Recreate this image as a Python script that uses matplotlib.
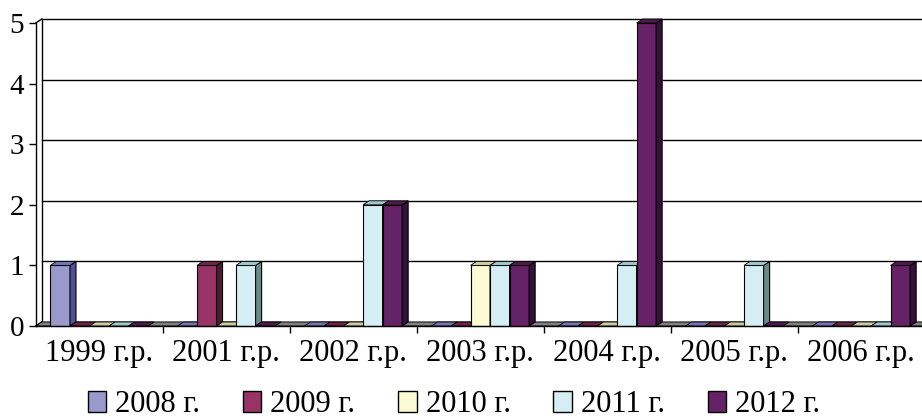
import matplotlib
matplotlib.use('Agg')
import matplotlib.pyplot as plt
from matplotlib.patches import Polygon, Patch

categories = ['1999 г.р.', '2001 г.р.', '2002 г.р.', '2003 г.р.',
              '2004 г.р.', '2005 г.р.', '2006 г.р.']
series = ['2008 г.', '2009 г.', '2010 г.', '2011 г.', '2012 г.']
v2008 = [1, 0, 0, 0, 0, 0, 0]
v2009 = [0, 1, 0, 0, 0, 0, 0]
v2010 = [0, 0, 0, 1, 0, 0, 0]
v2011 = [0, 1, 2, 1, 1, 1, 0]
v2012 = [0, 0, 2, 1, 5, 0, 1]
values = [v2008, v2009, v2010, v2011, v2012]

# front / top / side colours per series
front = ['#9999CC', '#993366', '#FCFAD2', '#D4EEF4', '#662266']
top = ['#7474B4', '#6E2448', '#CDCB9C', '#9CC8CC', '#4E1A4E']
side = ['#4F5296', '#4D1A33', '#8C8A66', '#6A8A8A', '#34103A']

plt.rcParams['font.family'] = ['Liberation Serif', 'DejaVu Serif']

fig = plt.figure(figsize=(9.22, 4.19), dpi=100)
ax = fig.add_axes([35.8 / 922, 93 / 419, 889 / 922, 303 / 419])
ax.set_xlim(0, len(categories))
ax.set_ylim(0, 5)

dx = 6 / 127.0     # depth offset, x units
dy = 4 / 60.6      # depth offset, y units
w = 1 / 6.5        # bar width (gap 150%)

# back wall gridlines
for v in range(0, 6):
    ax.plot([dx, len(categories) + dx], [v + dy, v + dy], color='black',
            lw=1.0, clip_on=False, zorder=1)
ax.plot([dx, dx], [dy, 5 + dy], color='black', lw=1.0, clip_on=False, zorder=1)
ax.plot([0, dx], [5, 5 + dy], color='black', lw=1.0, clip_on=False, zorder=1)
ax.plot([0, dx], [0, dy], color='black', lw=1.0, clip_on=False, zorder=1)

# floor
n = len(categories)
ax.add_patch(Polygon([[0, 0], [n, 0], [n + dx, dy], [dx, dy]], closed=True,
                     facecolor='#808080', edgecolor='black', lw=0.6,
                     clip_on=False, zorder=2))

z = 3
for i in range(n):
    for j in range(len(series)):
        h = values[j][i]
        x0 = i + 0.75 * w + j * w
        x1 = x0 + w
        if h > 0:
            ax.add_patch(Polygon([[x0, 0], [x1, 0], [x1, h], [x0, h]],
                                 closed=True, facecolor=front[j],
                                 edgecolor='black', lw=0.8, clip_on=False,
                                 zorder=z))
            ax.add_patch(Polygon([[x1, 0], [x1 + dx, dy], [x1 + dx, h + dy],
                                  [x1, h]], closed=True, facecolor=side[j],
                                 edgecolor='black', lw=0.8, clip_on=False,
                                 zorder=z))
        ax.add_patch(Polygon([[x0, h], [x1, h], [x1 + dx, h + dy],
                              [x0 + dx, h + dy]], closed=True,
                             facecolor=top[j], edgecolor='black', lw=0.6,
                             clip_on=False, zorder=z))
        z += 1

for s in ['top', 'right']:
    ax.spines[s].set_visible(False)
for s in ['left', 'bottom']:
    ax.spines[s].set_linewidth(1.0)
    ax.spines[s].set_zorder(z + 1)

ax.set_yticks(range(0, 6))
ax.tick_params(axis='y', length=5, width=1.0, pad=3.5, labelsize=21,
               direction='out')
ax.set_xticks([i + 0.5 for i in range(n)])
ax.set_xticklabels(categories)
ax.tick_params(axis='x', which='major', length=0, pad=9, labelsize=22)
ax.set_xticks(range(1, n), minor=True)
ax.tick_params(axis='x', which='minor', length=5, width=1.0, direction='out')

handles = [Patch(facecolor=front[j], edgecolor='black', lw=1.0)
           for j in range(len(series))]
fig.legend(handles, series, loc='center', bbox_to_anchor=(0.4924, 0.034),
           ncol=5, frameon=False, fontsize=22, handlelength=0.6,
           handleheight=0.65, handletextpad=0.3, columnspacing=1.4,
           borderpad=0, borderaxespad=0)

fig.savefig('out.png', dpi=100)
